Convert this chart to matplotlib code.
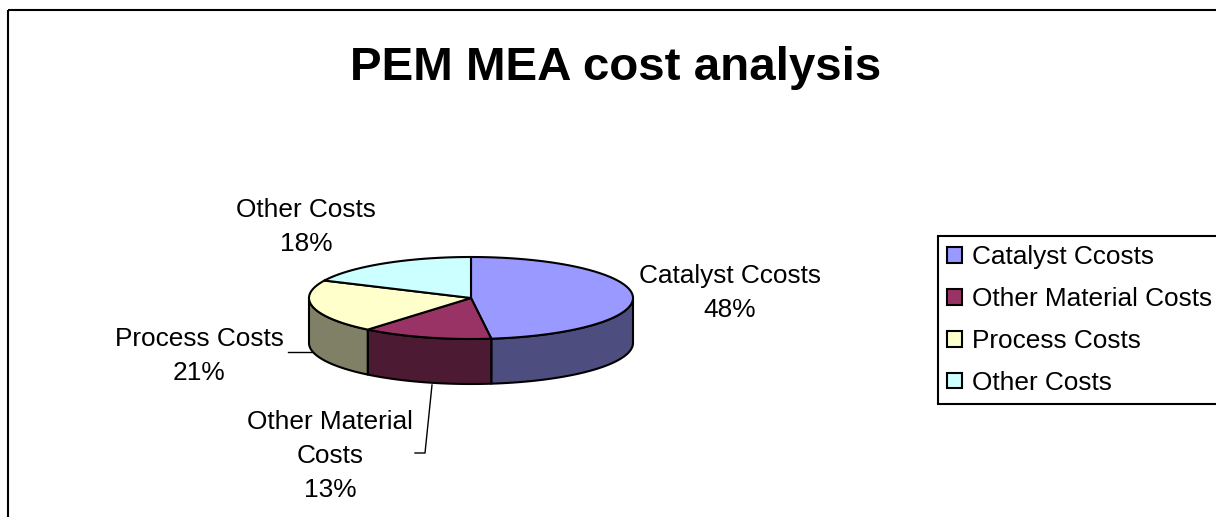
import numpy as np
import matplotlib.pyplot as plt
from matplotlib.patches import Polygon, Rectangle

plt.rcParams['font.family'] = ['Liberation Sans', 'DejaVu Sans']

# data
categories = ["Catalyst Ccosts", "Other Material Costs", "Process Costs", "Other Costs"]
pie_labels = ["Catalyst Ccosts", "Other Material\nCosts", "Process Costs", "Other Costs"]
values = [48, 13, 21, 18]
top_colors = ["#9999FF", "#993366", "#FFFFCC", "#CCFFFF"]

W, H = 1216, 517
fig = plt.figure(figsize=(W / 100, H / 100), dpi=100)
ax = fig.add_axes([0, 0, 1, 1])
ax.set_xlim(0, W)
ax.set_ylim(H, 0)
ax.axis("off")

# pie geometry (pixels)
cx, cy = 471, 298
a, b = 162, 41
depth = 45


def arc(t_from, t_to, dy=0, n=80):
    t = np.radians(np.linspace(t_from, t_to, n))
    return np.column_stack([cx + a * np.cos(t), cy - b * np.sin(t) + dy])


def darker(c):
    rgb = np.array([int(c[i:i + 2], 16) for i in (1, 3, 5)]) / 255.0
    return tuple(rgb * 0.5)


total = float(sum(values))
cum = np.concatenate([[0], np.cumsum(values)]) / total
t_start = 90 - cum[:-1] * 360
t_end = 90 - cum[1:] * 360

# side walls first (front half only)
for i in range(len(values)):
    t1, t2 = t_start[i], t_end[i]
    for k in (-1, 0, 1):
        lo = max(t2, -180 + 360 * k)
        hi = min(t1, 360 * k)
        if lo < hi:
            pts = np.vstack([arc(hi, lo), arc(lo, hi, dy=depth)])
            ax.add_patch(Polygon(pts, closed=True, facecolor=darker(top_colors[i]),
                                 edgecolor="black", lw=1.5, joinstyle="round"))

# top faces
tops = []
for i in range(len(values)):
    pts = np.vstack([[cx, cy], arc(t_start[i], t_end[i])])
    p = Polygon(pts, closed=True, facecolor=top_colors[i], edgecolor="black",
                lw=1.5, joinstyle="round", label=categories[i])
    ax.add_patch(p)
    tops.append(p)

# data labels
lab_pos = [(730, 293), (330, 456), (199, 356), (306, 227)]
for i in range(len(values)):
    ax.text(lab_pos[i][0], lab_pos[i][1], "%s\n%d%%" % (pie_labels[i], values[i]),
            ha="center", va="center", fontsize=18.9, linespacing=1.52)

# leader lines
ax.plot([288, 312], [352, 352], color="black", lw=1)
ax.plot([432, 425, 415], [385, 453, 453], color="black", lw=1)

# title
ax.text(616, 80, "PEM MEA cost analysis", ha="center", va="baseline",
        fontsize=34.2, fontweight="bold")

# chart area border
ax.add_patch(Rectangle((8, 10), 1400, 700, fill=False, edgecolor="black", lw=1.5))

leg = fig.legend(handles=tops, loc="upper left",
                 bbox_to_anchor=(938 / W, 1 - 236 / H), bbox_transform=fig.transFigure,
                 borderaxespad=0, fancybox=False, framealpha=1, edgecolor="black",
                 fontsize=18.9, handlelength=0.55, handleheight=0.55,
                 handletextpad=0.4, labelspacing=0.68, borderpad=0.35)
leg.get_frame().set_linewidth(1.5)

fig.savefig("out.png", dpi=100)
